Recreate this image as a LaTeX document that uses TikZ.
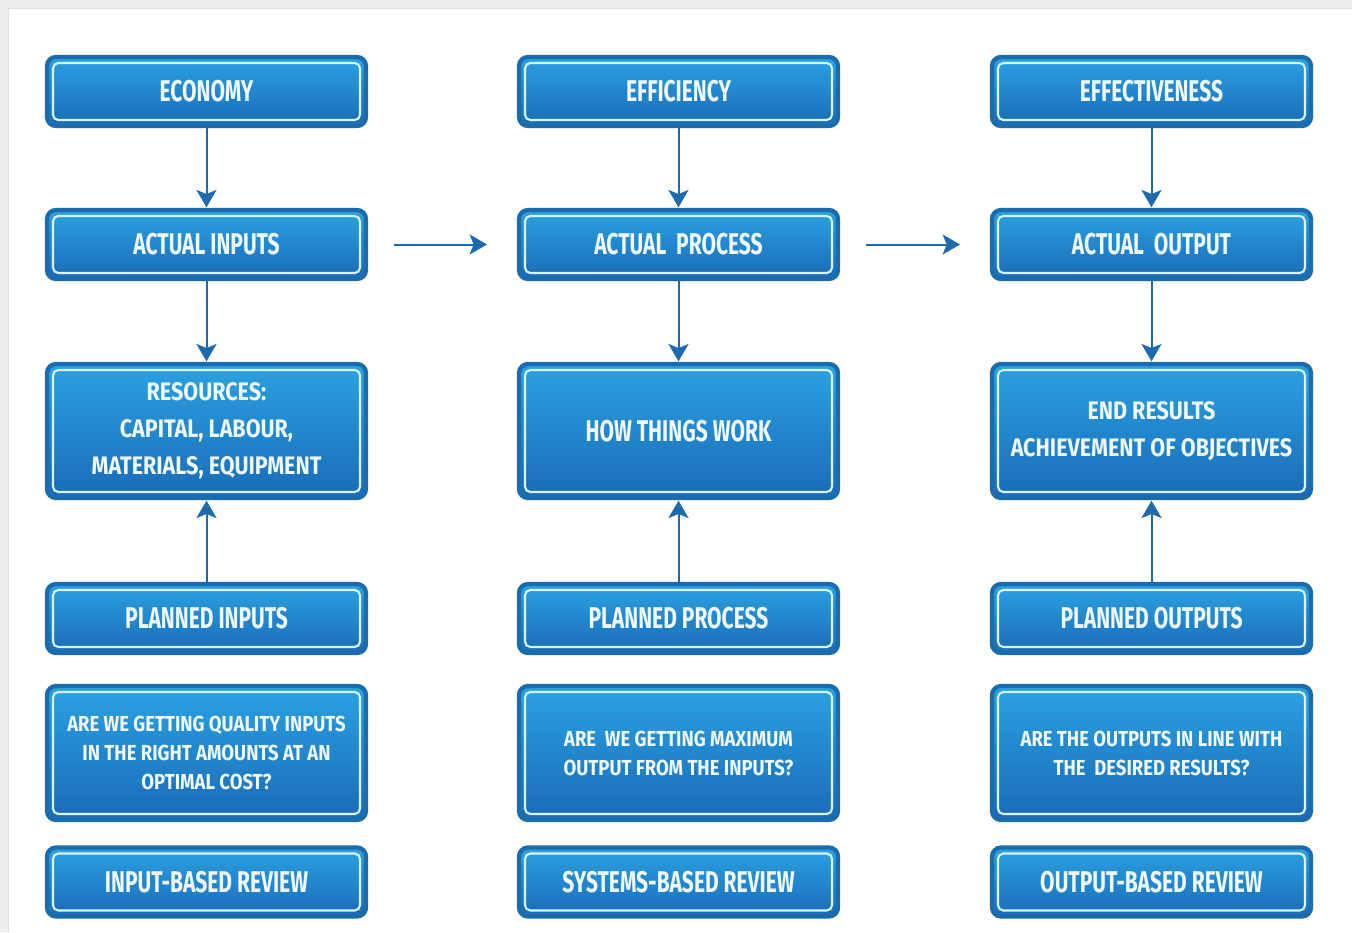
\documentclass[tikz,border=0pt]{standalone}
\usepackage{fontspec}
\newfontfamily\bfont[FakeStretch=0.7]{Fira Sans}
\newfontfamily\wfont[FakeStretch=0.85]{Fira Sans}
\usetikzlibrary{arrows.meta}
\definecolor{bord}{HTML}{1B6CAD}
\definecolor{ftop}{HTML}{2BA2E2}
\definecolor{fbot}{HTML}{1A6BB6}
\definecolor{inner}{HTML}{D8F4FF}
\definecolor{txt}{HTML}{EEF8FF}
\definecolor{arr}{HTML}{1D6AAE}
\definecolor{bggray}{HTML}{EEEEEE}
\definecolor{edge}{HTML}{E0E0E0}
\tikzset{
  box/.style={draw=bord, line width=3.2pt, rounded corners=6.75pt, top color=ftop, bottom color=fbot,
    minimum width=239.25pt, inner sep=0pt, outer sep=0pt, align=center, text=txt, font=\bfont\bfseries},
  shortbox/.style={box, minimum height=51.75pt},
  tallbox/.style={box, minimum height=100.5pt},
  bigtxt/.style={font=\bfont\bfseries\fontsize{22.5}{27}\selectfont},
  midtxt/.style={font=\wfont\bfseries\fontsize{19}{27.75}\selectfont},
  smalltxt/.style={font=\wfont\bfseries\fontsize{16.3}{21.75}\selectfont},
  inl/.style={draw=inner, line width=1.6pt, rounded corners=4pt},
  conn/.style={draw=arr, line width=1.5pt, -{Stealth[length=13pt,width=15pt,inset=3pt]}}
}
\newcommand\insetline[1]{\draw[inl] ([xshift=4.5pt,yshift=-4.5pt]#1.north west) rectangle ([xshift=-4.5pt,yshift=4.5pt]#1.south east);}
\begin{document}
\begin{tikzpicture}[x=0.75pt,y=-0.75pt]
\useasboundingbox (0,0) rectangle (1352,932);
\fill[bggray] (0,0) rectangle (1352,932);
\fill[white] (8,8) rectangle (1352,932);
\draw[edge, line width=0.75pt] (8,932) -- (8,8) -- (1352,8);

% column 1
\node[shortbox, bigtxt] (eco) at (206.5,91.5) {ECONOMY};
\node[shortbox, bigtxt] (ai) at (206.5,244.5) {ACTUAL INPUTS};
\node[tallbox, midtxt] (res) at (206.5,431) {RESOURCES:\\CAPITAL, LABOUR,\\MATERIALS, EQUIPMENT};
\node[shortbox, bigtxt] (pi) at (206.5,618.5) {PLANNED INPUTS};
\node[tallbox, smalltxt] (qi) at (206.5,753) {ARE WE GETTING QUALITY INPUTS\\IN THE RIGHT AMOUNTS AT AN\\OPTIMAL COST?};
\node[shortbox, bigtxt] (ir) at (206.5,882) {INPUT-BASED REVIEW};

% column 2
\node[shortbox, bigtxt] (eff) at (678.5,91.5) {EFFICIENCY};
\node[shortbox, bigtxt] (ap) at (678.5,244.5) {ACTUAL\ \ PROCESS};
\node[tallbox, bigtxt] (how) at (678.5,431) {HOW THINGS WORK};
\node[shortbox, bigtxt] (pp) at (678.5,618.5) {PLANNED PROCESS};
\node[tallbox, smalltxt] (qp) at (678.5,753) {ARE\ \ WE GETTING MAXIMUM\\OUTPUT FROM THE INPUTS?};
\node[shortbox, bigtxt] (sr) at (678.5,882) {SYSTEMS-BASED REVIEW};

% column 3
\node[shortbox, bigtxt] (efv) at (1151.5,91.5) {EFFECTIVENESS};
\node[shortbox, bigtxt] (ao) at (1151.5,244.5) {ACTUAL\ \ OUTPUT};
\node[tallbox, midtxt] (endr) at (1151.5,431) {END RESULTS\\ACHIEVEMENT OF OBJECTIVES};
\node[shortbox, bigtxt] (po) at (1151.5,618.5) {PLANNED OUTPUTS};
\node[tallbox, smalltxt] (qo) at (1151.5,753) {ARE THE OUTPUTS IN LINE WITH\\THE\ \ DESIRED RESULTS?};
\node[shortbox, bigtxt] (orv) at (1151.5,882) {OUTPUT-BASED REVIEW};

\foreach \n in {eco,ai,res,pi,qi,ir,eff,ap,how,pp,qp,sr,efv,ao,endr,po,qo,orv}{\insetline{\n}}

% connectors
\draw[conn, shorten <=1.6pt, shorten >=2pt] (eco) -- (ai);
\draw[conn, shorten <=1.6pt, shorten >=2pt] (ai) -- (res);
\draw[conn, shorten <=1.6pt, shorten >=2pt] (pi) -- (res);
\draw[conn, shorten <=1.6pt, shorten >=2pt] (eff) -- (ap);
\draw[conn, shorten <=1.6pt, shorten >=2pt] (ap) -- (how);
\draw[conn, shorten <=1.6pt, shorten >=2pt] (pp) -- (how);
\draw[conn, shorten <=1.6pt, shorten >=2pt] (efv) -- (ao);
\draw[conn, shorten <=1.6pt, shorten >=2pt] (ao) -- (endr);
\draw[conn, shorten <=1.6pt, shorten >=2pt] (po) -- (endr);
\draw[conn, shorten <=21pt, shorten >=24pt] (ai) -- (ap);
\draw[conn, shorten <=21pt, shorten >=24pt] (ap) -- (ao);
\end{tikzpicture}
\end{document}
